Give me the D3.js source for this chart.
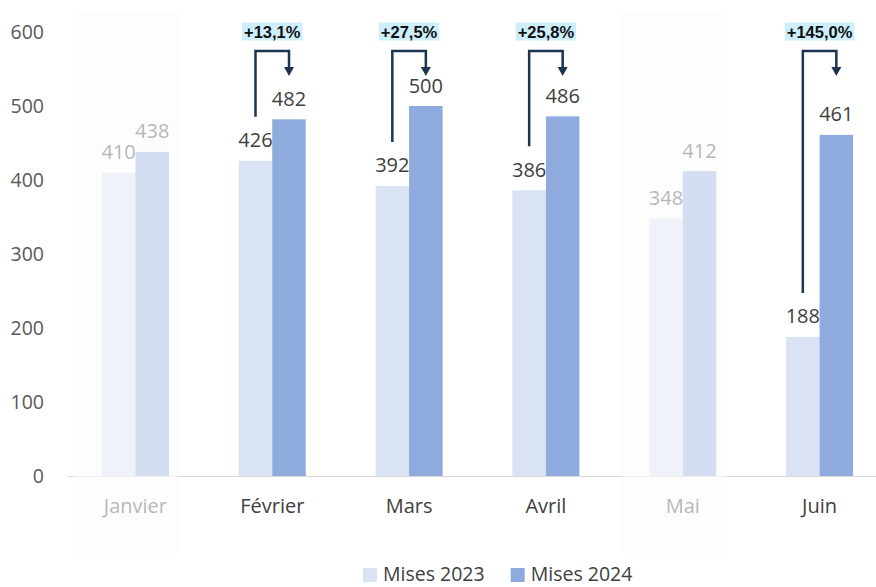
<!DOCTYPE html>
<html>
<head>
<meta charset="utf-8">
<script src="https://cdn.jsdelivr.net/npm/d3@7"></script>
<style>
  body { margin: 0; background: #fff; }
  svg text { font-family: "Open Sans", sans-serif; }
</style>
</head>
<body>
<script>
const months = ["Janvier", "Février", "Mars", "Avril", "Mai", "Juin"];
const series = ["Mises 2023", "Mises 2024"];
const mises2023 = [410, 426, 392, 386, 348, 188];
const mises2024 = [438, 482, 500, 486, 412, 461];
const faded = ["Janvier", "Mai"];
const callouts = [
  {month: "Février", label: "+13,1%"},
  {month: "Mars", label: "+27,5%"},
  {month: "Avril", label: "+25,8%"},
  {month: "Juin", label: "+145,0%"}
];
const yTicks = [0, 100, 200, 300, 400, 500, 600];

const W = 876, H = 587;
const colors = ["#dae3f3", "#8faadc"];
const rows = months.map((m, i) => ({month: m, values: [mises2023[i], mises2024[i]]}));

const svg = d3.select("body").append("svg")
    .attr("width", W)
    .attr("height", H);

// scales
const x0 = d3.scaleBand()
    .domain(months)
    .range([67, 888])
    .paddingInner(0.51)
    .paddingOuter(0.255);

const x1 = d3.scaleBand()
    .domain(series)
    .range([0, x0.bandwidth()]);

const y = d3.scaleLinear()
    .domain([0, 600])
    .range([476, 32]);

// y axis (labels only)
const yAxis = svg.append("g")
    .attr("transform", "translate(67,0)")
    .call(d3.axisLeft(y).tickValues(yTicks).tickSize(0).tickPadding(23));
yAxis.select(".domain").remove();
yAxis.selectAll("text")
    .style("font-family", "Open Sans")
    .style("font-size", "19.5px")
    .attr("fill", "#595959");

// x axis
const xAxis = svg.append("g")
    .attr("transform", "translate(0,476)")
    .call(d3.axisBottom(x0).tickSize(0).tickPadding(23));
xAxis.select(".domain").attr("stroke", "#d9d9d9").attr("stroke-width", 1.2);
xAxis.selectAll("text")
    .style("font-family", "Open Sans")
    .style("font-size", "20px")
    .attr("fill", "#404040");

// bars
const groups = svg.append("g").selectAll("g")
    .data(rows)
    .join("g")
    .attr("transform", d => "translate(" + x0(d.month) + ",0)");

groups.selectAll("rect")
    .data(d => d.values.map((v, i) => ({key: series[i], value: v, i: i})))
    .join("rect")
    .attr("x", d => x1(d.key))
    .attr("y", d => y(d.value))
    .attr("width", x1.bandwidth())
    .attr("height", d => y(0) - y(d.value))
    .attr("fill", d => colors[d.i]);

// value labels
groups.selectAll("text.val")
    .data(d => d.values.map((v, i) => ({key: series[i], value: v})))
    .join("text")
    .attr("class", "val")
    .attr("x", d => x1(d.key) + x1.bandwidth() / 2)
    .attr("y", d => y(d.value) - 13.5)
    .attr("text-anchor", "middle")
    .style("font-size", "20px")
    .attr("fill", "#404040")
    .text(d => d.value);

// fade overlay on non highlighted months
svg.append("g").selectAll("rect")
    .data(faded)
    .join("rect")
    .attr("x", d => x0(d) - 28)
    .attr("y", 13)
    .attr("width", 105)
    .attr("height", 540)
    .attr("fill", "#fcfcfc")
    .attr("fill-opacity", 0.63);

// callouts
const ink = "#1c3450";
const cg = svg.append("g").selectAll("g")
    .data(callouts)
    .join("g");

cg.each(function(c) {
    const i = months.indexOf(c.month);
    const g = d3.select(this);
    const xa = x0(c.month) + x1(series[0]) + x1.bandwidth() / 2;
    const xb = x0(c.month) + x1(series[1]) + x1.bandwidth() / 2;
    const yBottom = y(mises2023[i]) - 44;
    const yTop = 51;
    const yTip = 76;

    g.append("path")
        .attr("d", "M" + xa + "," + yBottom + "V" + yTop + "H" + xb + "V" + (yTip - 8))
        .attr("fill", "none")
        .attr("stroke", ink)
        .attr("stroke-width", 2.5);

    g.append("path")
        .attr("d", "M" + (xb - 5) + "," + (yTip - 9) + "L" + (xb + 5) + "," + (yTip - 9) + "L" + xb + "," + yTip + "Z")
        .attr("fill", ink);

    const xm = (xa + xb) / 2;
    const box = g.append("rect").attr("fill", "#cdeefb");
    const t = g.append("text")
        .attr("x", xm)
        .attr("y", 37.5)
        .attr("text-anchor", "middle")
        .style("font-family", "Liberation Sans, Arial, sans-serif")
        .style("font-weight", "bold")
        .style("font-size", "16.5px")
        .attr("fill", "#111")
        .text(c.label);
    const tw = t.node().getComputedTextLength();
    box.attr("x", xm - tw / 2 - 2)
        .attr("y", 22.5)
        .attr("width", tw + 4)
        .attr("height", 18);
});

// legend
const legend = svg.append("g");
let lx = 363;
series.forEach((s, i) => {
    legend.append("rect")
        .attr("x", lx)
        .attr("y", 568)
        .attr("width", 14)
        .attr("height", 14)
        .attr("fill", colors[i]);
    const t = legend.append("text")
        .attr("x", lx + 20)
        .attr("y", 581)
        .style("font-size", "19.5px")
        .attr("fill", "#404040")
        .text(s);
    lx += 20 + t.node().getComputedTextLength() + 26;
});
</script>
</body>
</html>
